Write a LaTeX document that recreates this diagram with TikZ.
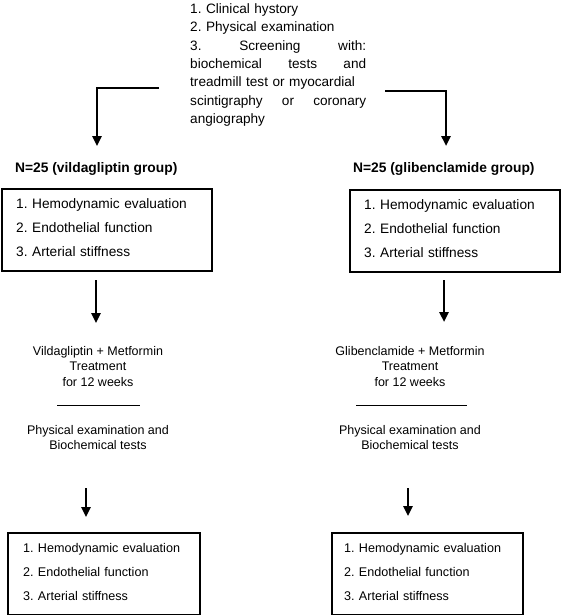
\documentclass[tikz,border=0pt]{standalone}
\usepackage{fontspec}
\setmainfont{Liberation Sans}
\usetikzlibrary{arrows.meta}
\frenchspacing
\begin{document}
\begin{tikzpicture}[x=1pt,y=-1pt,
  every node/.style={font=\fontsize{13.6}{18.3}\selectfont, inner sep=0pt},
  arr/.style={line width=2.4pt, -{Triangle[length=10pt,width=9pt]}},
  groupbox/.style={draw, line width=2.4pt, anchor=north west, minimum height=82pt,
    inner xsep=14pt, align=left},
  topfont/.style={font=\fontsize{13.7}{24}\selectfont},
  botfont/.style={font=\fontsize{12.6}{24}\selectfont},
  midtext/.style={align=center, anchor=north, font=\fontsize{12.5}{15.6}\selectfont},
  grouplabel/.style={font=\fontsize{13.8}{18}\selectfont\bfseries, anchor=west},
  sep/.style={line width=0.8pt}]
\useasboundingbox (0,0) rectangle (572,615);

% top text
\node[anchor=north west, text width=176pt, align=left] (top) at (190,3.5) {%
1. Clinical hystory\\
2. Physical examination\\
\makebox[176pt][s]{3. \hfill Screening \hfill with:}\\
\makebox[176pt][s]{biochemical \hfill tests \hfill and}\\
\makebox[176pt][s]{treadmill test or myocardial}\\
\makebox[176pt][s]{scintigraphy \hfill or \hfill coronary}\\
angiography};

\coordinate (cL) at (159,88);
\coordinate (tL) at (97,146);
\coordinate (cR) at (385,91);
\coordinate (tR) at (446,146);
\draw[arr] (cL) -| (tL);
\draw[arr] (cR) -| (tR);

% group labels
\node[grouplabel] (nL) at (15,169) {N=25 (vildagliptin group)};
\node[grouplabel] (nR) at (353,169) {N=25 (glibenclamide group)};

% first boxes
\node[groupbox, topfont, minimum width=210pt, text width=182pt] (b1L) at (1,188)
 {1. Hemodynamic evaluation\\2. Endothelial function\\3. Arterial stiffness\par\kern6pt};
\node[groupbox, topfont, minimum width=210pt, text width=182pt] (b1R) at (349,189)
 {1. Hemodynamic evaluation\\2. Endothelial function\\3. Arterial stiffness\par\kern6pt};

% treatment texts
\node[midtext] (tx1L) at (98,346) {Vildagliptin + Metformin\\Treatment\\for 12 weeks};
\node[midtext] (tx1R) at (410,346) {Glibenclamide + Metformin\\Treatment\\for 12 weeks};
\node[midtext] (tx2L) at (98,425) {Physical examination and\\Biochemical tests};
\node[midtext] (tx2R) at (410,425) {Physical examination and\\Biochemical tests};
\coordinate (s1a) at (57,405);  \coordinate (s1b) at (140,405);
\coordinate (s2a) at (356,405); \coordinate (s2b) at (467,405);
\draw[sep] (s1a) -- (s1b);
\draw[sep] (s2a) -- (s2b);

% arrows into treatment
\coordinate (a1s) at (96,280);  \coordinate (a1e) at (96,323);
\coordinate (a2s) at (444,280); \coordinate (a2e) at (444,322);
\draw[arr] (a1s) -- (a1e);
\draw[arr] (a2s) -- (a2e);

% bottom boxes
\node[groupbox, botfont, minimum width=192pt, text width=162pt, inner xsep=15pt] (b2L) at (7,532)
 {1. Hemodynamic evaluation\\2. Endothelial function\\3. Arterial stiffness\par\kern5pt};
\node[groupbox, botfont, minimum width=191pt, text width=167pt, inner xsep=12pt] (b2R) at (331,532)
 {1. Hemodynamic evaluation\\2. Endothelial function\\3. Arterial stiffness\par\kern5pt};

\coordinate (a3s) at (86,488);  \coordinate (a3e) at (86,517);
\coordinate (a4s) at (408,488); \coordinate (a4e) at (408,516);
\draw[arr] (a3s) -- (a3e);
\draw[arr] (a4s) -- (a4e);
\end{tikzpicture}
\end{document}
